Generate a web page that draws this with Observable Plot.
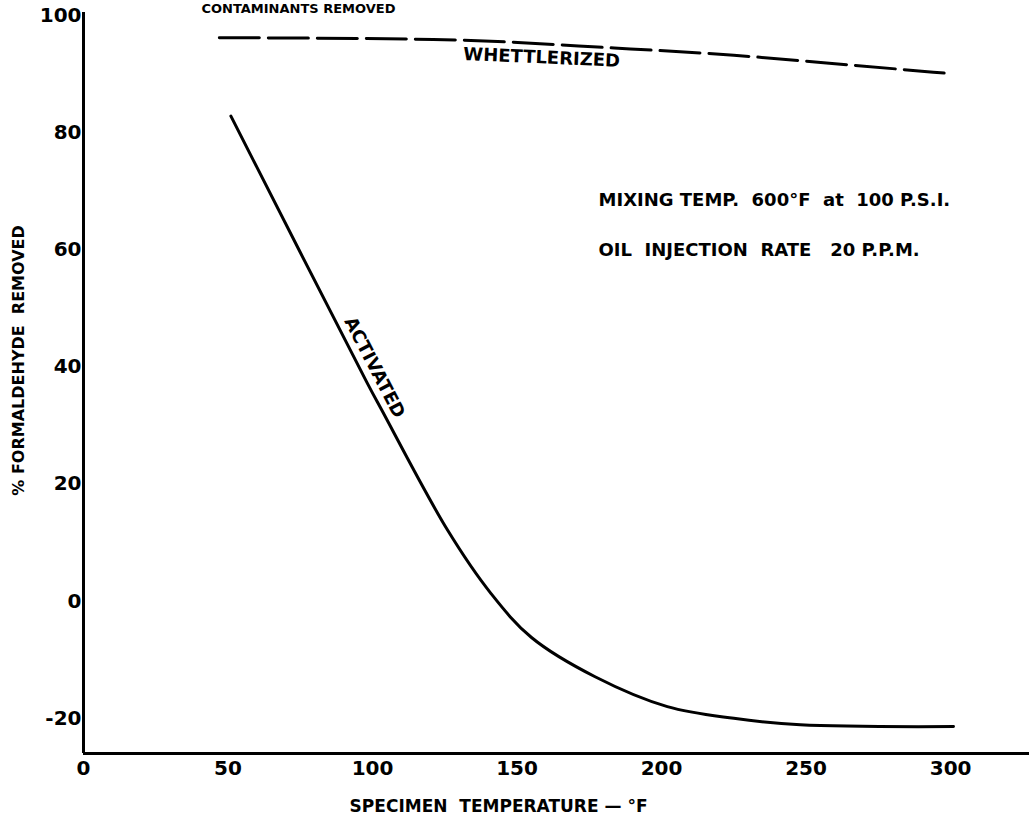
<!DOCTYPE html>
<html><head><meta charset="utf-8">
<script src="https://cdn.jsdelivr.net/npm/d3@7"></script>
<script src="https://cdn.jsdelivr.net/npm/@observablehq/plot@0.6"></script>
<style>
html,body{margin:0;padding:0;background:#fff;overflow:hidden;}
</style></head><body><div id="chart"></div>
<script>
const whettlerizedTemp = [47, 121, 185, 225, 259, 299];
const whettlerizedPct = [96.2, 95.9, 94.4, 93.2, 91.8, 90.1];
const activatedTemp = [51, 98, 103, 126, 141, 155, 177, 202, 225, 248, 301];
const activatedPct = [82.8, 37.4, 32.8, 12.1, 1.3, -6.2, -12.9, -18.0, -20.0, -21.1, -21.4];
const xTicks = [0, 50, 100, 150, 200, 250, 300];
const yTicks = [-20, 0, 20, 40, 60, 80, 100];
const titleText = "CONTAMINANTS REMOVED";
const xLabel = "SPECIMEN  TEMPERATURE — °F";
const yLabel = "% FORMALDEHYDE  REMOVED";
const note1 = "MIXING TEMP.  600°F  at  100 P.S.I.";
const note2 = "OIL  INJECTION  RATE   20 P.P.M.";

const whettlerized = whettlerizedTemp.map((t, i) => ({t, p: whettlerizedPct[i]}));
const activated = activatedTemp.map((t, i) => ({t, p: activatedPct[i]}));

const font = "DejaVu Sans, sans-serif";
const chart = Plot.plot({
  width: 1029, height: 824,
  marginLeft: 83, marginRight: 0, marginTop: 12, marginBottom: 71,
  style: {fontFamily: font, background: "#fff", color: "#000", overflow: "hidden", fontWeight: "bold"},
  x: {domain: [0, 327.3], axis: null},
  y: {domain: [-26, 100.5], axis: null},
  marks: [
    Plot.axisX(xTicks, {anchor: "bottom", tickSize: 0, tickPadding: 7, fontSize: 20, label: null, tickFormat: d => String(d), ariaLabel: "xticks"}),
    Plot.axisY(yTicks, {anchor: "left", tickSize: 0, tickPadding: 2, fontSize: 20, label: null, tickFormat: d => String(d), ariaLabel: "yticks"}),
    Plot.ruleX([0], {strokeWidth: 3}),
    Plot.ruleY([-26], {strokeWidth: 3}),
    Plot.line(whettlerized, {x: "t", y: "p", strokeWidth: 3, strokeDasharray: "40,9", curve: "monotone-x"}),
    Plot.line(activated, {x: "t", y: "p", strokeWidth: 3, curve: "catmull-rom"}),
    Plot.text(["WHETTLERIZED"], {x: 158.5, y: 92.8, rotate: 2.5, fontSize: 18, textAnchor: "middle", lineAnchor: "middle", ariaLabel: "wlabel"}),
    Plot.text(["ACTIVATED"], {x: 100.7, y: 39.9, rotate: 62.6, fontSize: 18, textAnchor: "middle", lineAnchor: "middle", ariaLabel: "alabel"}),
    Plot.text([note1], {x: 178.2, y: 68.4, fontSize: 18, textAnchor: "start", lineAnchor: "middle", ariaLabel: "note"}),
    Plot.text([note2], {x: 178.2, y: 59.9, fontSize: 18, textAnchor: "start", lineAnchor: "middle", ariaLabel: "note"}),
    Plot.text([xLabel], {x: 143.6, frameAnchor: "bottom", dy: 53, fontSize: 17, textAnchor: "middle", lineAnchor: "middle", ariaLabel: "axtitle"}),
    Plot.text([yLabel], {y: 41.1, frameAnchor: "left", dx: -65, rotate: -90, fontSize: 16, textAnchor: "middle", lineAnchor: "middle", ariaLabel: "axtitle"}),
    Plot.text([titleText], {x: 40.8, frameAnchor: "top", dy: -9, fontSize: 13, textAnchor: "start", lineAnchor: "top", ariaLabel: "title"})
  ]
});
document.getElementById("chart").appendChild(chart);
const svg = d3.select(chart);
svg.selectAll('g[aria-label="note"] text').attr("letter-spacing", 3);
svg.selectAll('g[aria-label="wlabel"] text').attr("letter-spacing", 2.5);
svg.selectAll('g[aria-label="alabel"] text').attr("letter-spacing", 2);
svg.selectAll('g[aria-label="axtitle"] text').attr("letter-spacing", 1.5);
svg.selectAll('g[aria-label="title"] text').attr("letter-spacing", 5);
svg.selectAll('g[aria-label="xticks"] text, g[aria-label="yticks"] text').attr("letter-spacing", -1);
</script></body></html>
